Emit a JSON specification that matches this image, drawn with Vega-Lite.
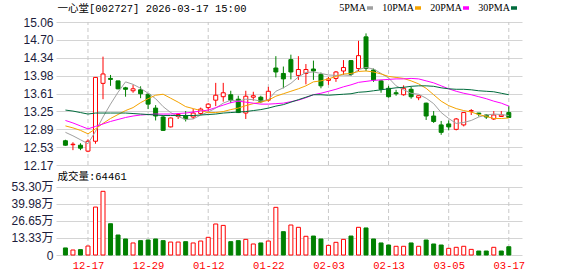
{
"$schema":"https://vega.github.io/schema/vega-lite/v6.json",
"width":466,"height":233,
"autosize":{"type":"none"},
"padding":{"left":56,"top":22,"right":56,"bottom":21},
"background":"#ffffff",
"config":{"view":{"stroke":null},"axis":{"labelFont":"Liberation Sans, Noto Sans CJK SC","labelFontSize":12,"labelColor":"#1c1c3c","labelOverlap":false,"labelSeparation":0}},
"data":{"values":[
{"i":0,"d":"12-12","o":12.66,"h":12.68,"l":12.56,"c":12.57,"v":5.5,"vu":0,"m5":12.83,"m10":12.96,"m20":13.07,"m30":13.28},
{"i":1,"d":"12-15","o":12.58,"h":12.63,"l":12.47,"c":12.59,"v":3.9,"vu":1,"m5":12.76,"m10":12.92,"m20":13.02,"m30":13.26},
{"i":2,"d":"12-16","o":12.57,"h":12.61,"l":12.47,"c":12.51,"v":4.2,"vu":0,"m5":12.68,"m10":12.87,"m20":12.96,"m30":13.23},
{"i":3,"d":"12-17","o":12.45,"h":12.69,"l":12.43,"c":12.65,"v":7.0,"vu":1,"m5":12.60,"m10":12.80,"m20":12.90,"m30":13.20},
{"i":4,"d":"12-18","o":12.65,"h":13.94,"l":12.60,"c":13.94,"v":37.4,"vu":1,"m5":12.85,"m10":12.90,"m20":12.95,"m30":13.22},
{"i":5,"d":"12-19","o":13.82,"h":14.36,"l":13.50,"c":14.01,"v":49.7,"vu":1,"m5":13.14,"m10":13.01,"m20":13.00,"m30":13.22},
{"i":6,"d":"12-22","o":13.92,"h":13.99,"l":13.77,"c":13.90,"v":24.4,"vu":0,"m5":13.40,"m10":13.11,"m20":13.05,"m30":13.22},
{"i":7,"d":"12-23","o":13.87,"h":13.87,"l":13.70,"c":13.71,"v":15.6,"vu":0,"m5":13.64,"m10":13.19,"m20":13.09,"m30":13.22},
{"i":8,"d":"12-24","o":13.73,"h":13.75,"l":13.55,"c":13.70,"v":12.5,"vu":0,"m5":13.85,"m10":13.27,"m20":13.13,"m30":13.22},
{"i":9,"d":"12-25","o":13.67,"h":13.79,"l":13.63,"c":13.71,"v":9.4,"vu":1,"m5":13.80,"m10":13.33,"m20":13.16,"m30":13.21},
{"i":10,"d":"12-26","o":13.69,"h":13.76,"l":13.52,"c":13.61,"v":11.2,"vu":0,"m5":13.72,"m10":13.43,"m20":13.18,"m30":13.20},
{"i":11,"d":"12-29","o":13.60,"h":13.62,"l":13.30,"c":13.40,"v":11.7,"vu":0,"m5":13.62,"m10":13.51,"m20":13.19,"m30":13.19},
{"i":12,"d":"12-30","o":13.32,"h":13.38,"l":13.07,"c":13.16,"v":12.5,"vu":0,"m5":13.51,"m10":13.58,"m20":13.20,"m30":13.18},
{"i":13,"d":"12-31","o":13.14,"h":13.17,"l":12.86,"c":12.87,"v":11.2,"vu":0,"m5":13.35,"m10":13.60,"m20":13.20,"m30":13.17},
{"i":14,"d":"01-05","o":12.94,"h":13.13,"l":12.93,"c":13.12,"v":10.1,"vu":1,"m5":13.23,"m10":13.52,"m20":13.20,"m30":13.17},
{"i":15,"d":"01-06","o":13.15,"h":13.22,"l":13.10,"c":13.19,"v":10.1,"vu":1,"m5":13.15,"m10":13.44,"m20":13.21,"m30":13.17},
{"i":16,"d":"01-07","o":13.17,"h":13.26,"l":13.05,"c":13.10,"v":10.4,"vu":0,"m5":13.09,"m10":13.35,"m20":13.22,"m30":13.17},
{"i":17,"d":"01-08","o":13.14,"h":13.30,"l":13.10,"c":13.22,"v":9.4,"vu":1,"m5":13.10,"m10":13.31,"m20":13.24,"m30":13.17},
{"i":18,"d":"01-09","o":13.21,"h":13.33,"l":13.18,"c":13.30,"v":10.9,"vu":1,"m5":13.18,"m10":13.27,"m20":13.26,"m30":13.18},
{"i":19,"d":"01-12","o":13.33,"h":13.42,"l":13.25,"c":13.40,"v":13.8,"vu":1,"m5":13.24,"m10":13.23,"m20":13.28,"m30":13.19},
{"i":20,"d":"01-13","o":13.48,"h":13.83,"l":13.36,"c":13.58,"v":24.2,"vu":1,"m5":13.32,"m10":13.23,"m20":13.33,"m30":13.20},
{"i":21,"d":"01-14","o":13.55,"h":13.83,"l":13.45,"c":13.63,"v":23.1,"vu":1,"m5":13.42,"m10":13.25,"m20":13.38,"m30":13.22},
{"i":22,"d":"01-15","o":13.59,"h":13.67,"l":13.42,"c":13.48,"v":10.4,"vu":0,"m5":13.48,"m10":13.29,"m20":13.43,"m30":13.23},
{"i":23,"d":"01-16","o":13.50,"h":13.57,"l":13.22,"c":13.23,"v":11.2,"vu":0,"m5":13.46,"m10":13.32,"m20":13.46,"m30":13.24},
{"i":24,"d":"01-19","o":13.22,"h":13.67,"l":13.10,"c":13.56,"v":12.2,"vu":1,"m5":13.50,"m10":13.37,"m20":13.44,"m30":13.25},
{"i":25,"d":"01-20","o":13.54,"h":13.65,"l":13.47,"c":13.57,"v":8.6,"vu":1,"m5":13.49,"m10":13.41,"m20":13.42,"m30":13.27},
{"i":26,"d":"01-21","o":13.54,"h":13.57,"l":13.42,"c":13.45,"v":9.4,"vu":0,"m5":13.46,"m10":13.44,"m20":13.40,"m30":13.29},
{"i":27,"d":"01-22","o":13.48,"h":13.75,"l":13.45,"c":13.66,"v":10.9,"vu":1,"m5":13.49,"m10":13.48,"m20":13.40,"m30":13.32},
{"i":28,"d":"01-23","o":14.13,"h":14.37,"l":13.94,"c":14.05,"v":37.2,"vu":1,"m5":13.66,"m10":13.56,"m20":13.41,"m30":13.36},
{"i":29,"d":"01-26","o":14.02,"h":14.16,"l":13.72,"c":13.91,"v":18.2,"vu":0,"m5":13.73,"m10":13.61,"m20":13.42,"m30":13.39},
{"i":30,"d":"01-27","o":14.30,"h":14.40,"l":13.90,"c":14.05,"v":23.4,"vu":1,"m5":13.82,"m10":13.66,"m20":13.45,"m30":13.44},
{"i":31,"d":"01-28","o":13.98,"h":14.37,"l":13.89,"c":14.10,"v":21.6,"vu":1,"m5":13.95,"m10":13.71,"m20":13.48,"m30":13.49},
{"i":32,"d":"01-29","o":14.02,"h":14.21,"l":13.80,"c":14.10,"v":14.6,"vu":1,"m5":14.04,"m10":13.77,"m20":13.53,"m30":13.54},
{"i":33,"d":"01-30","o":14.11,"h":14.28,"l":13.89,"c":14.07,"v":14.8,"vu":0,"m5":14.05,"m10":13.85,"m20":13.59,"m30":13.59},
{"i":34,"d":"02-02","o":14.00,"h":14.04,"l":13.72,"c":13.77,"v":12.5,"vu":0,"m5":14.02,"m10":13.87,"m20":13.62,"m30":13.59},
{"i":35,"d":"02-03","o":13.88,"h":13.95,"l":13.79,"c":13.91,"v":7.5,"vu":1,"m5":13.99,"m10":13.91,"m20":13.66,"m30":13.58},
{"i":36,"d":"02-04","o":13.92,"h":14.07,"l":13.85,"c":14.05,"v":9.9,"vu":1,"m5":13.98,"m10":13.96,"m20":13.70,"m30":13.59},
{"i":37,"d":"02-05","o":14.07,"h":14.29,"l":13.99,"c":14.14,"v":12.2,"vu":1,"m5":13.99,"m10":14.01,"m20":13.75,"m30":13.60},
{"i":38,"d":"02-06","o":14.28,"h":14.29,"l":13.97,"c":14.00,"v":14.8,"vu":0,"m5":13.98,"m10":14.02,"m20":13.79,"m30":13.61},
{"i":39,"d":"02-09","o":14.12,"h":14.68,"l":14.07,"c":14.38,"v":21.6,"vu":1,"m5":14.10,"m10":14.06,"m20":13.84,"m30":13.64},
{"i":40,"d":"02-10","o":14.76,"h":14.83,"l":14.07,"c":14.12,"v":21.1,"vu":0,"m5":14.14,"m10":14.07,"m20":13.86,"m30":13.65},
{"i":41,"d":"02-11","o":14.09,"h":14.12,"l":13.85,"c":13.89,"v":12.5,"vu":0,"m5":14.11,"m10":14.05,"m20":13.88,"m30":13.67},
{"i":42,"d":"02-12","o":13.87,"h":13.89,"l":13.63,"c":13.70,"v":9.4,"vu":0,"m5":14.02,"m10":14.01,"m20":13.89,"m30":13.69},
{"i":43,"d":"02-13","o":13.72,"h":13.77,"l":13.53,"c":13.55,"v":7.8,"vu":0,"m5":13.93,"m10":13.96,"m20":13.90,"m30":13.71},
{"i":44,"d":"02-24","o":13.63,"h":13.69,"l":13.57,"c":13.61,"v":6.8,"vu":1,"m5":13.77,"m10":13.94,"m20":13.91,"m30":13.73},
{"i":45,"d":"02-25","o":13.59,"h":13.78,"l":13.57,"c":13.72,"v":6.8,"vu":1,"m5":13.69,"m10":13.92,"m20":13.91,"m30":13.74},
{"i":46,"d":"02-26","o":13.70,"h":13.75,"l":13.51,"c":13.55,"v":9.4,"vu":0,"m5":13.62,"m10":13.87,"m20":13.92,"m30":13.76},
{"i":47,"d":"02-27","o":13.53,"h":13.57,"l":13.48,"c":13.57,"v":6.8,"vu":1,"m5":13.60,"m10":13.81,"m20":13.91,"m30":13.77},
{"i":48,"d":"03-02","o":13.42,"h":13.43,"l":13.08,"c":13.16,"v":11.7,"vu":0,"m5":13.52,"m10":13.72,"m20":13.87,"m30":13.77},
{"i":49,"d":"03-03","o":13.16,"h":13.26,"l":13.02,"c":13.05,"v":8.6,"vu":0,"m5":13.41,"m10":13.59,"m20":13.83,"m30":13.76},
{"i":50,"d":"03-04","o":12.98,"h":13.06,"l":12.78,"c":12.83,"v":7.8,"vu":0,"m5":13.23,"m10":13.46,"m20":13.77,"m30":13.73},
{"i":51,"d":"03-05","o":13.00,"h":13.07,"l":12.87,"c":12.94,"v":5.2,"vu":1,"m5":13.11,"m10":13.37,"m20":13.71,"m30":13.71},
{"i":52,"d":"03-06","o":12.89,"h":13.12,"l":12.87,"c":13.10,"v":6.0,"vu":1,"m5":13.01,"m10":13.31,"m20":13.66,"m30":13.70},
{"i":53,"d":"03-09","o":12.98,"h":13.23,"l":12.95,"c":13.23,"v":6.8,"vu":1,"m5":13.03,"m10":13.27,"m20":13.62,"m30":13.70},
{"i":54,"d":"03-10","o":13.26,"h":13.30,"l":13.18,"c":13.27,"v":4.4,"vu":1,"m5":13.07,"m10":13.24,"m20":13.59,"m30":13.69},
{"i":55,"d":"03-11","o":13.22,"h":13.22,"l":13.15,"c":13.20,"v":3.1,"vu":0,"m5":13.14,"m10":13.19,"m20":13.55,"m30":13.67},
{"i":56,"d":"03-12","o":13.18,"h":13.20,"l":13.10,"c":13.14,"v":3.1,"vu":0,"m5":13.18,"m10":13.15,"m20":13.51,"m30":13.66},
{"i":57,"d":"03-13","o":13.10,"h":13.26,"l":13.08,"c":13.18,"v":6.0,"vu":1,"m5":13.20,"m10":13.11,"m20":13.46,"m30":13.65},
{"i":58,"d":"03-16","o":13.15,"h":13.26,"l":13.14,"c":13.18,"v":3.1,"vu":0,"m5":13.19,"m10":13.11,"m20":13.42,"m30":13.62},
{"i":59,"d":"03-17","o":13.23,"h":13.36,"l":13.13,"c":13.13,"v":6.45,"vu":0,"m5":13.17,"m10":13.12,"m20":13.36,"m30":13.59}
]},
"encoding":{"x":{"field":"i","type":"quantitative","scale":{"domain":[-0.59,60.09],"nice":false,"zero":false},
 "axis":{"values":[3,11,19,27,35,43,51,59],"tickCount":20,"labelExpr":"['12-17','12-29','01-12','01-22','02-03','02-13','03-05','03-17'][round((datum.value-3)/8)]","grid":false,"ticks":false,"domain":false,"labelPadding":5,"labelColor":"#ff0000","labelFont":"Liberation Mono","labelFontSize":10.5,"title":null,"labelFlush":false,"labelOverlap":false}}},
"layer":[
 {"layer":[
  {"transform":[{"filter":{"field":"i","oneOf":[3,11,19,27,35,43,51,59]}}],
   "mark":{"type":"rule","stroke":"#c8c8c8","strokeDash":[4,3],"strokeWidth":1},
   "encoding":{"y":{"datum":12.17,"type":"quantitative","scale":{"domain":[12.17,15.06],"range":[143,0],"nice":false,"zero":false}},
     "y2":{"datum":15.06}}},
  {"data":{"values":[{}]},
   "mark":{"type":"text","text":"东方财富","font":"Noto Sans CJK SC","fontSize":36,"fontWeight":"bold","color":"#dfdfe5"},
   "encoding":{"x":{"datum":32.2,"type":"quantitative"},"y":{"datum":13.65,"type":"quantitative"}}},
  {"mark":{"type":"rule","strokeWidth":1},
   "encoding":{"y":{"field":"l","type":"quantitative",
     "axis":{"orient":"left","values":[12.17,12.53125,12.8925,13.25375,13.6149,13.97625,14.3375,14.69875,15.06],"tickCount":20,"labelExpr":"format(datum.value,'.2f')","grid":true,"gridColor":"#d4d4d4","gridWidth":1,"domain":false,"ticks":false,"labelPadding":3,"labelOverlap":false,"labelFlush":false,"labelBound":false,
       "title":"一心堂[002727] 2026-03-17 15:00","titleAngle":0,"titleX":1,"titleY":-13.5,"titleAlign":"left","titleBaseline":"middle","titleFont":"Liberation Mono, Noto Sans CJK SC","titleFontSize":10.5,"titleFontWeight":"normal","titleColor":"#000000"}},
     "y2":{"field":"h"},
     "color":{"condition":{"test":"datum.c>=datum.o","value":"#ff0000"},"value":"#008000"}}},
  {"mark":{"type":"bar","width":4,"strokeWidth":1},
   "encoding":{"y":{"field":"o","type":"quantitative"},"y2":{"field":"c"},
     "fill":{"condition":{"test":"datum.c>=datum.o","value":"#ffffff"},"value":"#008000"},
     "stroke":{"condition":{"test":"datum.c>=datum.o","value":"#ff0000"},"value":"#008000"}}},
  {"transform":[{"fold":["m5","m10","m20","m30"],"as":["k","val"]}],
   "mark":{"type":"line","strokeWidth":1},
   "encoding":{"y":{"field":"val","type":"quantitative"},
     "color":{"field":"k","type":"nominal","scale":{"domain":["m5","m10","m20","m30"],"range":["#a0a0a0","#f5a300","#ff00ff","#006b3c"]},
       "legend":{"orient":"none","legendX":309,"legendY":-19,"direction":"horizontal","title":null,"symbolType":"M-1,0H1","symbolSize":36,"symbolStrokeWidth":3.5,"labelAlign":"right","labelOffset":-9,"labelFont":"Liberation Serif","labelFontSize":10,"labelColor":"#000000","columnPadding":2,"padding":0,
         "labelExpr":"datum.label=='m5'?'5PMA':datum.label=='m10'?'10PMA':datum.label=='m20'?'20PMA':'30PMA'"}}}},
  {"data":{"values":[{}]},
   "mark":{"type":"rect","filled":false,"stroke":"#9a9a9a","strokeWidth":1},
   "encoding":{"x":{"datum":-0.59,"type":"quantitative"},"x2":{"datum":60.09},"y":{"datum":12.17,"type":"quantitative"},"y2":{"datum":15.06}}}
 ]},
 {"layer":[
  {"transform":[{"filter":{"field":"i","oneOf":[3,11,19,27,35,43,51,59]}}],
   "mark":{"type":"rule","stroke":"#c8c8c8","strokeDash":[4,3],"strokeWidth":1},
   "encoding":{"y":{"datum":0,"type":"quantitative","scale":{"domain":[0,53.3],"range":[233,164.7],"nice":false,"zero":true},
     "axis":{"orient":"left","values":[0,13.3251,26.65,39.9751,53.3],"tickCount":20,"labelExpr":"datum.value==0?'0':format(datum.value,'.2f')+'万'","grid":true,"gridColor":"#d4d4d4","gridWidth":1,"domain":false,"ticks":false,"labelPadding":3,"labelOverlap":false,"labelFlush":false,"labelBound":false,
       "title":"成交量:64461","titleAngle":0,"titleX":1,"titleY":154.7,"titleAlign":"left","titleBaseline":"middle","titleFont":"Liberation Mono, Noto Sans CJK SC","titleFontSize":10.5,"titleFontWeight":"normal","titleColor":"#000000"}},
     "y2":{"datum":53.3}}},
  {"mark":{"type":"bar","width":4,"strokeWidth":1},
   "encoding":{"y":{"field":"v","type":"quantitative"},
     "fill":{"condition":{"test":"datum.vu==1","value":"#ffffff"},"value":"#008000"},
     "stroke":{"condition":{"test":"datum.vu==1","value":"#ff0000"},"value":"#008000"}}},
  {"data":{"values":[{}]},
   "mark":{"type":"rect","filled":false,"stroke":"#9a9a9a","strokeWidth":1},
   "encoding":{"x":{"datum":-0.59,"type":"quantitative"},"x2":{"datum":60.09},"y":{"datum":0,"type":"quantitative"},"y2":{"datum":53.3}}}
 ]}
],
"resolve":{"scale":{"y":"independent"}}
}
